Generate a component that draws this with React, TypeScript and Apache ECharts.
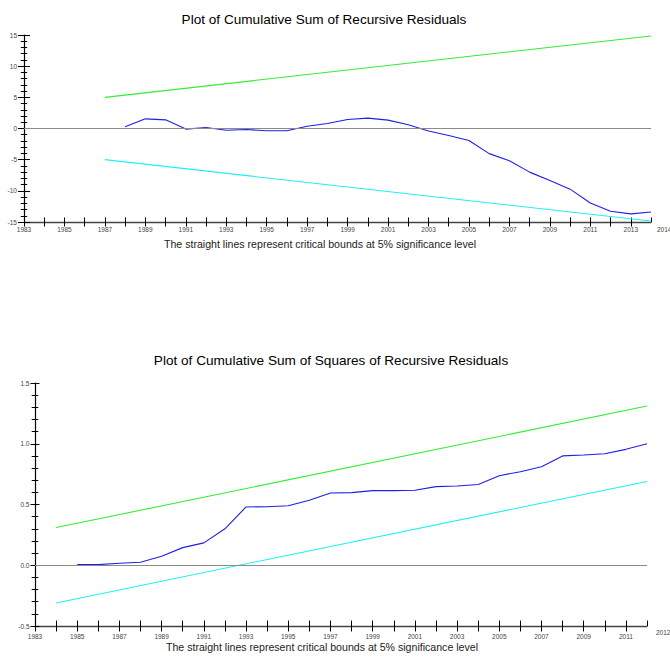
import React, { useEffect, useRef } from "react";
import * as echarts from "echarts";

// ---- Data ----
const cusumYears = [1988, 1989, 1990, 1991, 1992, 1993, 1994, 1995, 1996, 1997, 1998, 1999, 2000, 2001, 2002, 2003, 2004, 2005, 2006, 2007, 2008, 2009, 2010, 2011, 2012, 2013, 2014];
const cusumValues = [0.27, 1.55, 1.39, -0.1, 0.16, -0.27, -0.16, -0.37, -0.37, 0.37, 0.8, 1.44, 1.66, 1.34, 0.6, -0.4, -1.12, -1.93, -4.03, -5.19, -7.0, -8.34, -9.73, -11.94, -13.27, -13.7, -13.4];
const cusumBoundYears = [1987, 2014];
const cusumUpper = [5.0, 14.85];
const cusumLower = [-5.0, -14.85];

const sqYears = [1985, 1986, 1987, 1988, 1989, 1990, 1991, 1992, 1993, 1994, 1995, 1996, 1997, 1998, 1999, 2000, 2001, 2002, 2003, 2004, 2005, 2006, 2007, 2008, 2009, 2010, 2011, 2012];
const sqValues = [0.005, 0.005, 0.016, 0.025, 0.074, 0.145, 0.184, 0.3, 0.48, 0.482, 0.49, 0.535, 0.595, 0.598, 0.614, 0.614, 0.617, 0.647, 0.652, 0.664, 0.737, 0.77, 0.81, 0.9, 0.907, 0.918, 0.954, 1.0];
const sqBoundYears = [1984, 2012];
const sqUpper = [0.31, 1.31];
const sqLower = [-0.31, 0.69];

const title1 = "Plot of Cumulative Sum of Recursive Residuals";
const title2 = "Plot of Cumulative Sum of Squares of Recursive Residuals";
const note = "The straight lines represent critical bounds at 5% significance level";

const FONT = "'Liberation Sans', Arial, Helvetica, sans-serif";
const BLUE = "#1f1fe6";
const GREEN = "#33ee33";
const CYAN = "#22f0f0";

const pairs = (xs: number[], ys: number[]) => xs.map((x, i) => [x, ys[i]]);

export default function App() {
  const ref = useRef<HTMLDivElement>(null);
  useEffect(() => {
    if (!ref.current) return;
    const chart = echarts.init(ref.current, undefined, { renderer: "svg" });

    const xAxisPair = (grid: number, min: number, max: number, tickLen: number, margin: number, lastPad: number, lastMargin: number) => [
      {
        type: "value", gridIndex: grid, min, max, interval: 1, position: "bottom",
        axisLine: { show: true, onZero: false, lineStyle: { color: "#444", width: 1.4 } },
        axisTick: { show: true, inside: false, length: tickLen, lineStyle: { color: "#000", width: 1 } },
        axisLabel: {
          show: true, margin, fontSize: 6.5, color: "#444", fontFamily: FONT,
          showMinLabel: true, showMaxLabel: false, hideOverlap: false,
          formatter: (v: number) => {
            const y = Math.round(v);
            return y !== max && y % 2 === 1 ? String(y) : "";
          },
        },
        splitLine: { show: false },
      },
      {
        type: "value", gridIndex: grid, min, max, interval: 1, position: "bottom",
        axisLine: { show: false, onZero: false },
        axisTick: { show: true, inside: true, length: tickLen, lineStyle: { color: "#000", width: 1 } },
        axisLabel: {
          show: true, margin: lastMargin, align: "left", showMinLabel: false, showMaxLabel: true, hideOverlap: false,
          fontSize: 6.5, color: "#444", fontFamily: FONT,
          formatter: (v: number) => (Math.round(v) === max ? "{e|" + max + "}" : ""),
          rich: { e: { fontSize: 6.5, color: "#444", fontFamily: FONT, padding: [0, 0, 0, lastPad] } },
        },
        splitLine: { show: false },
      },
    ];

    const yAxisPair = (grid: number, min: number, max: number, interval: number, major: number, minor: number, margin: number, fmt: (v: number) => string) => [
      {
        type: "value", gridIndex: grid, min, max, interval, position: "left",
        axisLine: { show: true, onZero: false, lineStyle: { color: "#000", width: 1.2 } },
        axisTick: { show: true, inside: false, length: major, lineStyle: { color: "#000", width: 1 } },
        minorTick: { show: true, splitNumber: 5, length: minor, lineStyle: { color: "#000", width: 1 } },
        axisLabel: { show: true, margin, fontSize: 6.5, color: "#444", fontFamily: FONT, formatter: fmt },
        splitLine: { show: false },
        minorSplitLine: { show: false },
      },
      {
        type: "value", gridIndex: grid, min, max, interval, position: "left",
        axisLine: { show: false, onZero: false },
        axisTick: { show: true, inside: true, length: major, lineStyle: { color: "#000", width: 1 } },
        minorTick: { show: true, splitNumber: 5, length: minor, lineStyle: { color: "#000", width: 1 } },
        axisLabel: { show: false },
        splitLine: { show: false },
        minorSplitLine: { show: false },
      },
    ];

    const zeroLine = {
      silent: true,
      symbol: ["none", "none"],
      label: { show: false },
      lineStyle: { color: "#8a8a8a", type: "solid", width: 1 },
      data: [{ yAxis: 0 }],
    };

    const lineSeries = (x: number, y: number, data: number[][], color: string, extra: any = {}) => ({
      type: "line", xAxisIndex: x, yAxisIndex: y, data, showSymbol: false, symbol: "none",
      lineStyle: { color, width: 1.1 }, itemStyle: { color }, silent: true, z: 3, ...extra,
    });

    const textEl = (text: string, x: number, y: number, size: number, color: string) => ({
      type: "text", x, y,
      style: { text, fontSize: size, fontFamily: FONT, fill: color, align: "center", verticalAlign: "middle", textAlign: "center", textVerticalAlign: "middle" },
    });

    chart.setOption({
      animation: false,
      backgroundColor: "#ffffff",
      grid: [
        { left: 24, right: 19, top: 35, height: 187, containLabel: false, outerBoundsMode: "none" },
        { left: 35, right: 23, top: 383, height: 243, containLabel: false, outerBoundsMode: "none" },
      ],
      xAxis: [
        ...xAxisPair(0, 1983, 2014, 4.5, 4, 6, 3.5),
        ...xAxisPair(1, 1983, 2012, 5.5, 6.5, 9, 2.5),
      ],
      yAxis: [
        ...yAxisPair(0, -15, 15, 5, 6, 3.2, 7, (v: number) => String(Math.round(v))),
        ...yAxisPair(1, -0.5, 1.5, 0.5, 4.5, 3.3, 5.5, (v: number) => v.toFixed(1)),
      ],
      series: [
        lineSeries(0, 0, pairs(cusumBoundYears, cusumUpper), GREEN),
        lineSeries(0, 0, pairs(cusumBoundYears, cusumLower), CYAN),
        lineSeries(0, 0, pairs(cusumYears, cusumValues), BLUE, { markLine: zeroLine, z: 2 }),
        lineSeries(2, 2, pairs(sqBoundYears, sqUpper), GREEN),
        lineSeries(2, 2, pairs(sqBoundYears, sqLower), CYAN),
        lineSeries(2, 2, pairs(sqYears, sqValues), BLUE, { markLine: zeroLine, z: 2 }),
      ],
      graphic: [
        textEl(title1, 324, 19, 13.6, "#000"),
        textEl(note, 320, 243.5, 10.6, "#222"),
        textEl(title2, 331, 360, 13.6, "#000"),
        textEl(note, 322, 647, 10.6, "#222"),
      ],
    });
    return () => chart.dispose();
  }, []);

  return <div ref={ref} style={{ position: "fixed", left: 0, top: 0, width: 670, height: 659, background: "#fff" }} />;
}
